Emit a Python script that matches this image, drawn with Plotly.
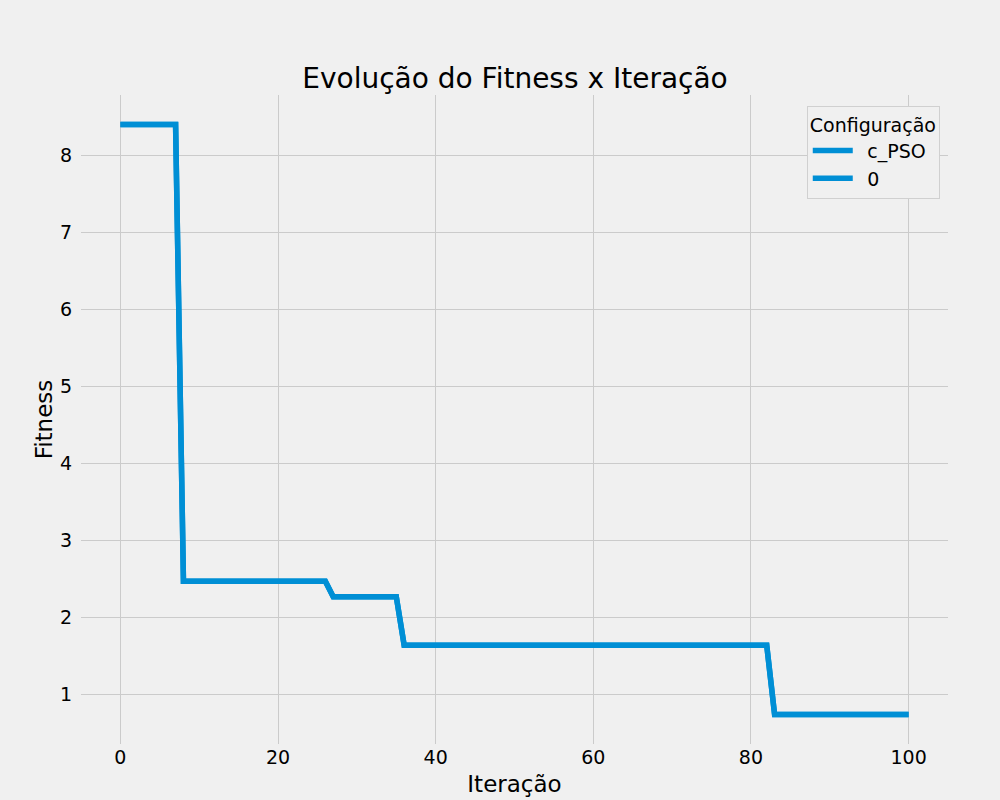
import plotly.graph_objects as go

iteracoes = list(range(101))
fitness = [
    8.40, 8.40, 8.40, 8.40, 8.40, 8.40, 8.40, 8.40, 2.47, 2.47,
    2.47, 2.47, 2.47, 2.47, 2.47, 2.47, 2.47, 2.47, 2.47, 2.47,
    2.47, 2.47, 2.47, 2.47, 2.47, 2.47, 2.47, 2.27, 2.27, 2.27,
    2.27, 2.27, 2.27, 2.27, 2.27, 2.27, 1.64, 1.64, 1.64, 1.64,
    1.64, 1.64, 1.64, 1.64, 1.64, 1.64, 1.64, 1.64, 1.64, 1.64,
    1.64, 1.64, 1.64, 1.64, 1.64, 1.64, 1.64, 1.64, 1.64, 1.64,
    1.64, 1.64, 1.64, 1.64, 1.64, 1.64, 1.64, 1.64, 1.64, 1.64,
    1.64, 1.64, 1.64, 1.64, 1.64, 1.64, 1.64, 1.64, 1.64, 1.64,
    1.64, 1.64, 1.64, 0.74, 0.74, 0.74, 0.74, 0.74, 0.74, 0.74,
    0.74, 0.74, 0.74, 0.74, 0.74, 0.74, 0.74, 0.74, 0.74, 0.74,
    0.74,
]
series_names = ["c_PSO", "0"]

LINE_COLOR = "#008fd5"
BG = "#f0f0f0"
GRID = "#cbcbcb"
FONT = "DejaVu Sans"

fig = go.Figure()
for name in series_names:
    fig.add_trace(go.Scatter(
        x=iteracoes, y=fitness, mode="lines", name="\u2002" + name,
        line=dict(color=LINE_COLOR, width=5.5),
    ))

fig.update_layout(
    width=1000, height=800,
    paper_bgcolor=BG, plot_bgcolor=BG,
    font=dict(family=FONT, size=19, color="#000000"),
    margin=dict(l=81, r=52, t=95, b=56, autoexpand=False),
    title=dict(text="Evolução do Fitness x Iteração", x=0.515, xanchor="center",
               y=1 - 78 / 800, yanchor="middle", yref="container",
               font=dict(size=28, family=FONT, color="#000000")),
    legend=dict(
        title=dict(text="Configuração", side="top", font=dict(size=19)),
        font=dict(size=19),
        x=0.9905, xanchor="right", y=0.983, yanchor="top",
        bgcolor=BG, bordercolor="#d0d0d0", borderwidth=1,
        itemwidth=40,
    ),
    showlegend=True,
)
fig.update_xaxes(
    range=[-5, 105], dtick=20, tick0=0,
    showgrid=True, gridcolor=GRID, gridwidth=1.4,
    zeroline=False, showline=False, ticks="",
    ticklabelstandoff=0,
    title=dict(text="Iteração", font=dict(size=23), standoff=8),
    tickfont=dict(size=19),
)
fig.update_yaxes(
    range=[0.357, 8.783], dtick=1, tick0=0,
    showgrid=True, gridcolor=GRID, gridwidth=1.4,
    zeroline=False, showline=False, ticks="",
    ticklabelstandoff=8,
    title=dict(text="Fitness", font=dict(size=23), standoff=0),
    tickfont=dict(size=19),
)

fig.write_html("out.html", config={"displayModeBar": False},
               post_script="document.body.style.margin='0';")
